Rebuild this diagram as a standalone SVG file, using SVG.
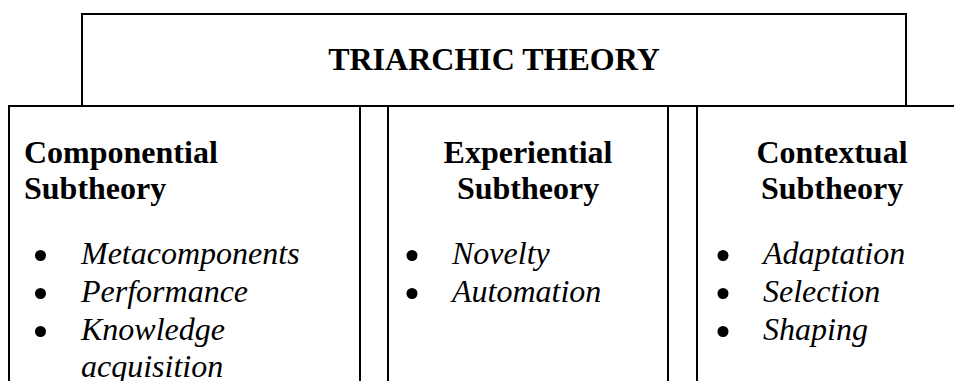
<svg xmlns="http://www.w3.org/2000/svg" width="954" height="381" viewBox="0 0 954 381">
<style>
.ln{fill:none;stroke:#000;stroke-width:2}
.h{font-family:"Liberation Serif","Times New Roman",serif;font-weight:bold;font-size:32px;fill:#000}
.it{font-family:"Liberation Serif","Times New Roman",serif;font-style:italic;font-size:32px;fill:#000}
.b{fill:#000}
</style>
<rect width="954" height="381" fill="#fff"/>
<g id="connectors">
<path class="ln" d="M82,106 V14 H906 V106"/>
<path class="ln" d="M9,381 V106 H954"/>
<path class="ln" d="M360,106 V381 M388,106 V381 M668,106 V381 M697,106 V381"/>
</g>
<g id="title">
<text class="h" x="494" y="70" text-anchor="middle">TRIARCHIC THEORY</text>
</g>
<g id="componential">
<text class="h" x="24" y="163">Componential</text>
<text class="h" x="24" y="199">Subtheory</text>
<circle class="b" cx="40.5" cy="255.5" r="5.5"/>
<circle class="b" cx="40.5" cy="293.5" r="5.5"/>
<circle class="b" cx="40.5" cy="331.5" r="5.5"/>
<text class="it" x="81" y="264">Metacomponents</text>
<text class="it" x="81" y="302">Performance</text>
<text class="it" x="81" y="340">Knowledge</text>
<text class="it" x="81" y="377">acquisition</text>
</g>
<g id="experiential">
<text class="h" x="528" y="163" text-anchor="middle">Experiential</text>
<text class="h" x="528" y="199" text-anchor="middle">Subtheory</text>
<circle class="b" cx="412" cy="255.5" r="5.5"/>
<circle class="b" cx="412" cy="293.5" r="5.5"/>
<text class="it" x="452" y="264">Novelty</text>
<text class="it" x="452" y="302">Automation</text>
</g>
<g id="contextual">
<text class="h" x="832" y="163" text-anchor="middle">Contextual</text>
<text class="h" x="832" y="199" text-anchor="middle">Subtheory</text>
<circle class="b" cx="723" cy="255.5" r="5.5"/>
<circle class="b" cx="723" cy="293.5" r="5.5"/>
<circle class="b" cx="723" cy="331.5" r="5.5"/>
<text class="it" x="763" y="264">Adaptation</text>
<text class="it" x="763" y="302">Selection</text>
<text class="it" x="763" y="340">Shaping</text>
</g>
</svg>
